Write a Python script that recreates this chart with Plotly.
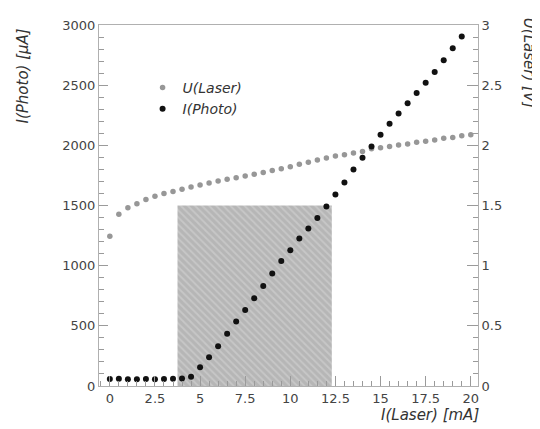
import plotly.graph_objects as go

# ---- data ----
laser_current = [0, 0.5, 1, 1.5, 2, 2.5, 3, 3.5, 4, 4.5, 5, 5.5, 6, 6.5, 7, 7.5, 8, 8.5, 9, 9.5,
                 10, 10.5, 11, 11.5, 12, 12.5, 13, 13.5, 14, 14.5, 15, 15.5, 16, 16.5, 17, 17.5,
                 18, 18.5, 19, 19.5, 20]
u_laser = [1.245, 1.427, 1.481, 1.514, 1.550, 1.577, 1.599, 1.617, 1.636, 1.654, 1.671, 1.688,
           1.704, 1.718, 1.730, 1.745, 1.760, 1.775, 1.790, 1.805, 1.822, 1.842, 1.860, 1.879,
           1.895, 1.911, 1.922, 1.936, 1.949, 1.971, 1.979, 1.990, 2.003, 2.011, 2.025, 2.033,
           2.044, 2.058, 2.066, 2.080, 2.088]

photo_laser_current = [0, 0.5, 1, 1.5, 2, 2.5, 3, 3.5, 4, 4.5, 5, 5.5, 6, 6.5, 7, 7.5, 8, 8.5,
                       9, 9.5, 10, 10.5, 11, 11.5, 12, 12.5, 13, 13.5, 14, 14.5, 15, 15.5, 16,
                       16.5, 17, 17.5, 18, 18.5, 19, 19.5]
i_photo = [58, 60, 57, 56, 58, 57, 58, 60, 62, 76, 155, 239, 331, 435, 535, 631, 730, 830, 935,
           1038, 1128, 1226, 1308, 1397, 1491, 1591, 1691, 1799, 1897, 1990, 2088, 2180, 2265,
           2350, 2435, 2520, 2610, 2708, 2806, 2904]

band_x = [3.75, 12.3]      # hatched working region, I(Laser) limits [mA]
band_y = [0, 1500]         # I(Photo) limits [uA]

x_ticks = [0, 2.5, 5, 7.5, 10, 12.5, 15, 17.5, 20]
x_tick_text = ["0", "2.5", "5", "7.5", "10", "12.5", "15", "17.5", "20"]
left_ticks = [0, 500, 1000, 1500, 2000, 2500, 3000]
left_tick_text = ["0", "500", "1000", "1500", "2000", "2500", "3000"]
right_ticks = [0, 0.5, 1, 1.5, 2, 2.5, 3]
right_tick_text = ["0", "0.5", "1", "1.5", "2", "2.5", "3"]

FONT = "DejaVu Sans"
TICKC = "#9a9a9a"

fig = go.Figure()

# U(Laser) on primary y (drawn on the right)
fig.add_trace(go.Scatter(
    x=laser_current, y=u_laser, mode="markers", name="<i>U(Laser)</i>",
    marker=dict(symbol="circle", size=5.5, color="#979797"), yaxis="y"))

# hatched band on I(Photo) scale
fig.add_trace(go.Scatter(
    x=[band_x[0], band_x[1], band_x[1], band_x[0], band_x[0]],
    y=[band_y[0], band_y[0], band_y[1], band_y[1], band_y[0]],
    mode="lines", fill="toself", line=dict(width=0, color="rgba(0,0,0,0)"),
    fillcolor="#b8b8b8",
    fillpattern=dict(shape="\\", bgcolor="#b6b6b6", fgcolor="#d8d8d8", size=5, solidity=0.35),
    showlegend=False, hoverinfo="skip", yaxis="y2"))

# I(Photo) on overlaying y2 (drawn on the left)
fig.add_trace(go.Scatter(
    x=photo_laser_current, y=i_photo, mode="markers", name="<i>I(Photo)</i>",
    marker=dict(symbol="circle", size=6, color="#111111"), yaxis="y2"))

axis_common = dict(
    showgrid=False, zeroline=False, showline=True, linecolor="#b0b0b0", linewidth=1,
    ticks="inside", tickcolor=TICKC, tickwidth=1,
    tickfont=dict(family=FONT, size=13, color="#444444"),
)

fig.update_layout(
    width=540, height=429,
    margin=dict(l=91, r=70, t=10, b=51),
    paper_bgcolor="white", plot_bgcolor="white",
    showlegend=True,
    legend=dict(x=0.115, y=0.87, xanchor="left", yanchor="top",
                bgcolor="rgba(0,0,0,0)", borderwidth=0,
                font=dict(family=FONT, size=14, color="#333333"),
                itemwidth=30, tracegroupgap=4),
    xaxis=dict(range=[-0.6, 20.4], tickvals=x_ticks, ticktext=x_tick_text, ticklen=10,
               mirror=True,
               minor=dict(dtick=0.5, tick0=0, ticks="inside", ticklen=5, tickcolor=TICKC),
               **axis_common),
    yaxis=dict(range=[0, 3], side="right", tickvals=right_ticks, ticktext=right_tick_text,
               ticklen=11,
               minor=dict(dtick=0.1, tick0=0, ticks="inside", ticklen=5, tickcolor=TICKC),
               **axis_common),
    yaxis2=dict(range=[0, 3000], side="left", overlaying="y", tickvals=left_ticks,
                ticktext=left_tick_text, ticklen=9,
                minor=dict(dtick=100, tick0=0, ticks="inside", ticklen=5, tickcolor=TICKC),
                **axis_common),
)

title_font = dict(family=FONT, size=15, color="#333333")
fig.add_annotation(text="<i>I(Photo) [µA]</i>", xref="paper", yref="paper",
                   x=-0.2, y=0.995, xanchor="center", yanchor="top", textangle=-90,
                   showarrow=False, font=title_font)
fig.add_annotation(text="<i>U(Laser) [V]</i>", xref="paper", yref="paper",
                   x=1.135, y=1.025, xanchor="center", yanchor="top", textangle=90,
                   showarrow=False, font=title_font)
fig.add_annotation(text="<i>I(Laser) [mA]</i>", xref="paper", yref="paper",
                   x=1.008, y=-0.08, xanchor="right", yanchor="middle",
                   showarrow=False, font=title_font)

fig.write_html("out.html")
